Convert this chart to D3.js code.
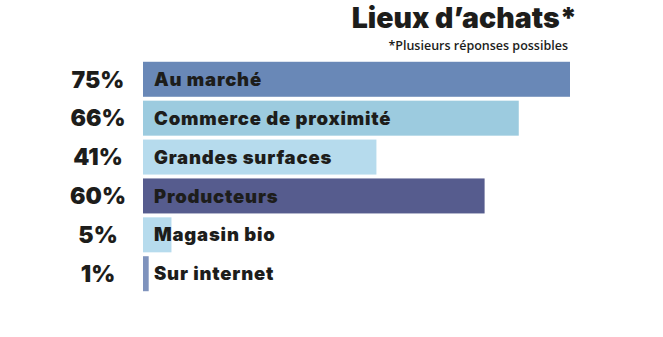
<!DOCTYPE html>
<html lang="fr">
<head>
<meta charset="utf-8">
<script src="https://cdn.jsdelivr.net/npm/d3@7"></script>
<style>
  html, body { margin: 0; padding: 0; background: #fff; }
  svg { display: block; }
  .title { font-family: Inter, Lato, "Liberation Sans", sans-serif; font-weight: 900; fill: #1d1d1b; }
  .sub { font-family: "Open Sans", sans-serif; font-weight: 600; fill: #1d1d1b; }
  .pct { font-family: Inter, Lato, "Liberation Sans", sans-serif; font-weight: 900; fill: #1d1d1b; }
  .cat { font-family: Inter, Lato, "Liberation Sans", sans-serif; font-weight: 900; fill: #1d1d1b; letter-spacing: 0.8px; }
</style>
</head>
<body>
<svg id="chart" width="663" height="337"></svg>
<script>
// Lieux d'achats (plusieurs réponses possibles)
const categories = ["Au marché", "Commerce de proximité", "Grandes surfaces", "Producteurs", "Magasin bio", "Sur internet"];
const values = [75, 66, 41, 60, 5, 1];
const valueLabels = ["75%", "66%", "41%", "60%", "5%", "1%"];
const barColors = ["#6988b7", "#9ccbdf", "#b6dbed", "#565c8e", "#b6dbed", "#7f93bd"];

const svg = d3.select("#chart");

const x = d3.scaleLinear().domain([0, 75]).range([143, 570]);
const y = d3.scaleBand().domain(categories).range([61, 292]).paddingInner(0.1).paddingOuter(0.02);

// Title block
svg.append("text").attr("class", "title")
  .attr("x", 577).attr("y", 28).attr("text-anchor", "end")
  .attr("font-size", 28.5).text("Lieux d’achats*");
svg.append("text").attr("class", "sub")
  .attr("x", 568).attr("y", 50).attr("text-anchor", "end")
  .attr("font-size", 12.5).text("*Plusieurs réponses possibles");

const rows = svg.append("g").selectAll("g")
  .data(categories.map((c, i) => ({ c, v: values[i], label: valueLabels[i], color: barColors[i] })))
  .join("g");

rows.append("rect")
  .attr("x", x(0))
  .attr("y", d => y(d.c))
  .attr("width", d => Math.max(1.5, x(d.v) - x(0)))
  .attr("height", y.bandwidth())
  .attr("fill", d => d.color);

rows.append("text").attr("class", "pct")
  .attr("x", 98)
  .attr("y", d => y(d.c) + y.bandwidth() / 2)
  .attr("dy", "0.36em")
  .attr("text-anchor", "middle")
  .attr("font-size", 23)
  .text(d => d.label);

rows.append("text").attr("class", "cat")
  .attr("x", 154)
  .attr("y", d => y(d.c) + y.bandwidth() / 2)
  .attr("dy", "0.36em")
  .attr("font-size", 18.5)
  .text(d => d.c);
</script>
</body>
</html>
